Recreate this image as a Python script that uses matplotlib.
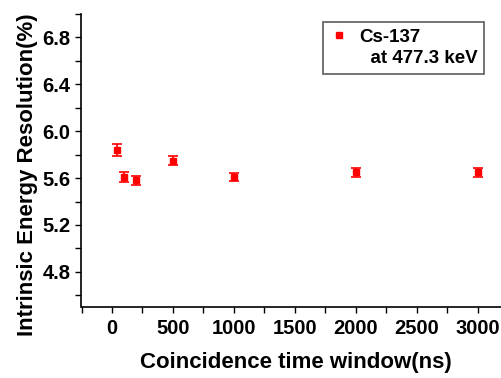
import matplotlib
matplotlib.use("Agg")
import matplotlib.pyplot as plt
from matplotlib.ticker import MultipleLocator
from matplotlib.lines import Line2D

plt.rcParams['font.family'] = ['Liberation Sans', 'DejaVu Sans']
plt.rcParams['font.weight'] = 'bold'

# coincidence time window (ns) vs intrinsic energy resolution (%)
window_ns = [40, 100, 200, 500, 1000, 2000, 3000]
resolution = [5.84, 5.61, 5.58, 5.75, 5.61, 5.65, 5.65]
res_err = [0.05, 0.04, 0.035, 0.035, 0.035, 0.04, 0.04]

fig = plt.figure(figsize=(5.02, 3.78), dpi=100)
ax = fig.add_axes([81.5 / 502, 1 - 307 / 378, (502 - 81.5) / 502, (307 - 14) / 378])

ax.errorbar(window_ns, resolution, yerr=res_err, fmt='s', color='red',
            ms=5, capsize=3.5, elinewidth=1.2, capthick=1.2)

ax.set_xlim(-250, 3200)
ax.set_ylim(4.5, 7.0)
ax.xaxis.set_major_locator(MultipleLocator(500))
ax.xaxis.set_minor_locator(MultipleLocator(250))
ax.yaxis.set_minor_locator(MultipleLocator(0.2))
ax.set_yticks([4.8, 5.2, 5.6, 6.0, 6.4, 6.8])

ax.spines['top'].set_visible(False)
ax.spines['right'].set_visible(False)
ax.spines['left'].set_linewidth(1.2)
ax.spines['bottom'].set_linewidth(1.2)
ax.tick_params(which='major', direction='out', length=4, width=1)
ax.tick_params(which='minor', direction='out', length=4, width=1)
ax.tick_params(axis='x', labelsize=14.5, pad=5)
ax.tick_params(axis='y', labelsize=14.5, pad=4)

ax.set_xlabel('Coincidence time window(ns)', fontsize=16, fontweight='bold')
ax.set_ylabel('Intrinsic Energy Resolution(%)', fontsize=16, fontweight='bold')
ax.xaxis.set_label_coords(0.509, -0.155)
ax.yaxis.set_label_coords(-0.103, 0.45)

marker = Line2D([], [], ls='none', marker='s', color='red', ms=5)
blank = Line2D([], [], ls='none')
leg = ax.legend([marker, blank], ['Cs-137', '  at 477.3 keV'], loc='upper right',
                bbox_to_anchor=(0.957, 0.973), borderaxespad=0, frameon=True,
                fancybox=False, edgecolor='#333333', fontsize=13.5,
                handlelength=1.0, handletextpad=0.6, borderpad=0.35,
                labelspacing=0.25)
leg.get_frame().set_linewidth(1.2)

fig.savefig('out.png', dpi=100)
